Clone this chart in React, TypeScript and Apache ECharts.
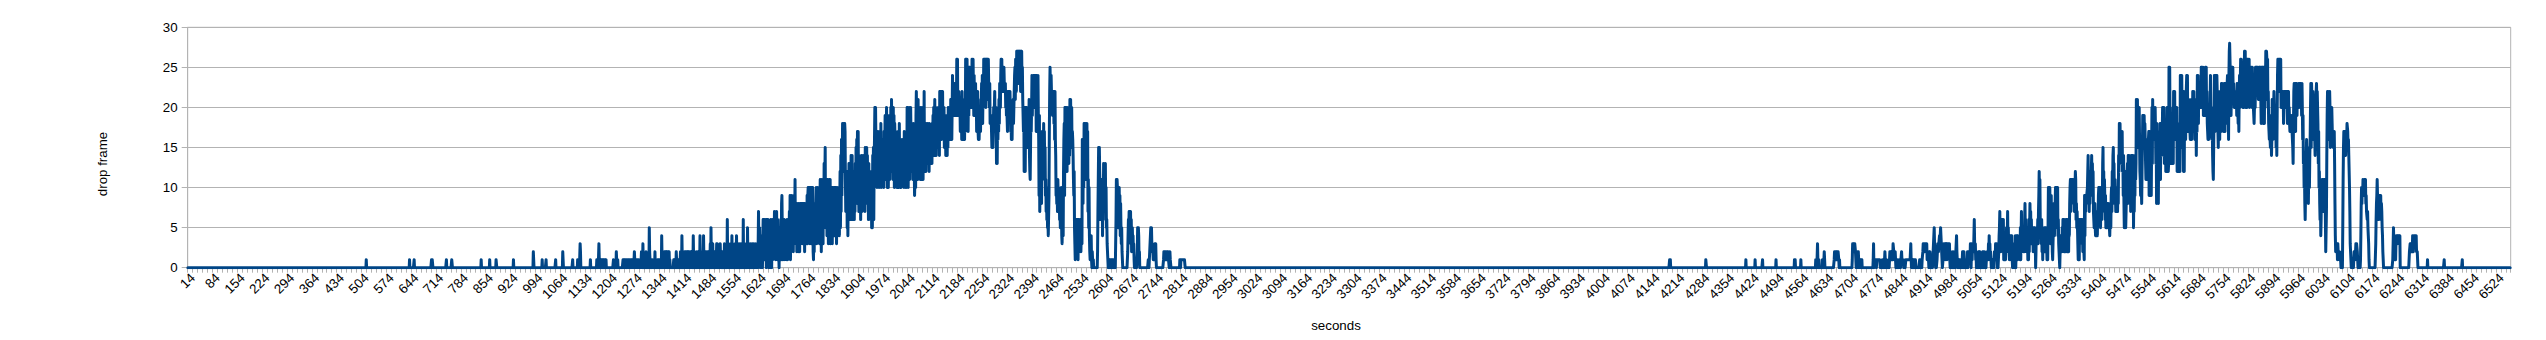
import React, { useEffect, useRef } from "react";
import * as echarts from "echarts";

// ---- Axis / category data ----
const SECOND_COUNT = 6550; // seconds 0 .. 6549 on the category axis
const LABEL_FIRST = 14;
const LABEL_STEP = 70;
const TICK_STEP = 14;
const Y_MIN = 0;
const Y_MAX = 30;
const Y_STEP = 5;
const X_TITLE = "seconds";
const Y_TITLE = "drop frame";

// ---- Series values (drop frames per second) ----
// isolated spikes: [second, value]
const leftSpikes: [number, number][] = [
  [503, 1], [625, 1], [638, 1], [687, 1], [688, 1], [689, 1], [690, 1], [729, 1], [744, 1], [745, 1],
  [827, 1], [851, 1], [869, 1], [870, 1], [918, 1], [974, 2], [975, 1], [999, 1], [1010, 1], [1037, 1],
  [1057, 2], [1058, 2], [1085, 1], [1099, 1], [1106, 3], [1107, 2], [1135, 1], [1153, 1], [1154, 1],
  [1156, 1], [1159, 3], [1160, 1], [1162, 1], [1163, 1], [1165, 1], [1167, 1], [1168, 1], [1170, 1],
  [1172, 1], [1174, 1], [1175, 1], [1177, 1], [1179, 1], [1200, 1], [1208, 2], [1209, 1], [1212, 1],
];
const rightSpikes: [number, number][] = [
  [4178, 1], [4179, 1], [4180, 1], [4280, 1], [4281, 1], [4393, 1], [4419, 1], [4440, 1], [4478, 1],
  [4530, 1], [4531, 1], [4532, 1], [4548, 1], [6315, 1], [6362, 1], [6413, 1],
];

// dense stretches: one character per second (base 36: 0-9, a=10 ... s=28), 10 seconds per block
const leftStart = 1225;
const leftBlocks: string[] = [
  "0011101111", "0110111101", "1110111011", "1101211101", "1110111101",
  "1101212031", "0110101201", "0101105210", "1010011010", "1020101100",
  "1011010101", "0410121012", "1202120210", "2120100000", "0000010101",
  "1021010101", "0101201041", "0120102121", "0212021201", "2102120120",
  "4101201010", "2101210204", "1020120104", "1021020120", "1202120130",
  "5102130201", "2010213031", "0201023120", "1021020130", "2010206130",
  "2102031204", "1302102031", "0240130201", "3020130312", "0602130210",
  "2305121301", "2031023013", "3102031203", "1203731520", "4130200616",
  "1615160626", "1630521306", "2036156247", "3616273162", "5204152618",
  "9516241635", "2514361526", "3729158396", "4827396b48", "3728462837",
  "2838584838", "4838285848", "3939a4a5a3", "a6a39a4a21", "5283848a39",
  "6a495a38b4", "a28b4a3b5d", "6bf5b8a4b7", "b3a6b4b39a", "5a3a5a49a4",
  "9a5a39a549", "a648c5e7g9", "diiciifihb", "7a8c5b4a6d", "8b6c9e6de7",
  "9c6a6b7d8f", "9g8h9ha7e8", "ab6d8e7c9e", "8e9c7f8dbf", "9e8c6d8b77",
  "a6c5b5e8f6", "dgkbkgcgaf", "bhcgahchci", "adcgbcfahc", "cjbidkkafb",
  "agcjbhckdl", "lcjbkcjaig", "bhcgaecahd", "aicgaeafbg", "cgbgahbfaf",
  "bdakckajdk", "bickgdidhb", "ficd9bhajm", "mcjbldhcjd", "bkdjbkcgbi",
  "dmcidgcieh", "fidegcidhd", "gehdifjekg", "ilefkeihgj", "fkgjemhmim",
  "gmimhjhkfi", "gjeigjeifk", "khjgkglgig", "kojmkljnjm", "jmkqlqjmkm",
  "mjkhlikgmh", "kgjgiglhqk", "qjqkmhnjpk", "pkolmkqlnq", "mjokmlnjmh",
  "kimhgjgijk", "hlknjoimkq", "qlqmqkqnqm", "qlqnmkniji", "jhfjhfhkik",
  "mijhkdhdjg", "jhlinmkoqn", "qmpnpmpnnm", "nkmjkkhmjm", "kmlmkhjgig",
  "kjlikmoplq", "qmrnrprnrq", "rprmrprnpl", "lhkcfkcjkj", "kfjhkjhlec",
  "bfkhkojmmo", "kolonlohoi", "lhojg9j7a8", "9b8ehbheic", "hcf9b7a685",
  "6449hmppko", "mlmjmkmimg", "mge9a8a7b9", "a7968575a4", "3694cgi9kf",
  "kgkhckghkd", "kelglhgkfh", "geb9c53146", "3626516264", "5362463gc8",
  "gaifibhigc", "ibh7b5a421", "3141021010", "0000000000", "27bf9fca6b",
  "6b8a4b6d7c", "8cd7a56321", "0010101101", "0101110100", "036b8ba957",
  "9a69485352", "1000000000", "0000024657", "6757362453", "4231000000",
  "0025354120", "0000000000", "0000000000", "0001101234", "5453232122",
  "1232310000", "0000000000", "0000001212", "1121211212", "1101211000",
  "0000000000", "0000000000", "0011011111", "1111111000",
];

const rightStart = 4585;
const rightBlocks: string[] = [
  "0000010000", "3100100000", "0000100012", "1000000000", "0000000000",
  "0000000122", "2212122122", "1010000000", "0000000000", "0000000000",
  "0000000013", "3323333210", "0012221001", "1101110000", "0000000000",
  "0000000000", "0000000130", "1111110111", "1111111000", "0001000000",
  "2100010000", "0001222122", "1213321212", "1011001000", "0111011211",
  "1110000001", "1111111111", "1113101101", "0101101100", "0000000011",
  "0101011233", "3323333231", "1111021210", "1100012345", "3210000123",
  "3233434543", "2100123333", "3132313323", "3231012100", "1021010201",
  "2342101001", "0100101012", "1202001101", "1012012122", "1320231323",
  "2463231201", "0101202120", "1001012120", "1210101121", "2132423121",
  "0100101012", "2132132010", "1245735246", "3563612123", "1235247352",
  "4143414241", "0121302040", "2434142323", "2151472535", "3252684632",
  "4251316258", "5736353525", "3525302535", "46379c8b64", "5362515232",
  "5253523141", "5a7a8a5359", "3621357846", "8a5a7a9a46", "3210242342",
  "5364625262", "3562462526", "48ab7b9bab", "9b8b7bacb6", "8575312416",
  "3565646525", "3219497989", "9ace9b7a8c", "9bcead9c76", "5685476454",
  "769a6a7a59", "76a8df9c7b", "9695858586", "867546859a", "7caefbd98b",
  "9779787a8e", "cihiehfhdh", "ce9e85a7c5", "79bcd8eaed", "b9d7ceae9e",
  "c5a7b9ebdl", "fhlgkfjkgc", "b99a8cfjgj", "hjgigdbgcf", "bdbgh9he9h",
  "b9fkdlgkhk", "kgkhdh8i9h", "a8gbgcibie", "ighkfkekdg", "egcgdgkcgc",
  "dpgphkhdgd", "hdgdmgkmgk", "ikgkcifcgf", "hfcofoiohk", "igcmclhlgl",
  "lolohkhlhi", "hgiglgkhmi", "kmhkgkilej", "hoioinlnkn", "mkpkpmkpjn",
  "mjmkpkpjmi", "hghgghiloi", "hkgiecbfjo", "ohokoiomlh", "fmilgmjmhn",
  "knjlihmnkh", "ninljnoiog", "orssomjnlp", "npmnmkmlkm", "kmjnmkilhm",
  "oknqmqlnok", "mlkormrkok", "lkqmqnoqko", "pmoppkpnmk", "jiimkpnpmp",
  "mpnlnpmpnp", "lipmpnpipn", "iplnrqrqlq", "kmihgjgfgj", "eglkglkmki",
  "kgkfiejoqq", "mqmqpmqkmm", "kmkmikmkmk", "mkmkmimkmi", "kihjhihjhh",
  "fdimnimnhn", "mnjmkmlnkm", "nlnkmjnkgj", "deac869beg", "bf9c8ceaeg",
  "knfnlmgmlh", "hjgeikmnjm", "kidhac8694", "6a8b9b7ab9", "9b6227ejmk",
  "mhjgmkfkhj", "kighfhghd8", "4223231322", "2121110000", "05bfhghfhe",
  "gfgiihfgee", "a732100000", "0012121232", "3321000000", "0148a8a9b9",
  "a9ba9b8977", "6754310000", "0000000000", "00003689bb", "7968989896",
  "8754210000", "0000000000", "0000000000", "0013534212", "1344434443",
  "4340000000", "0000000000", "0000000012", "2323323243", "2344344342",
  "2210000000",
];

function buildValues(): number[] {
  const v: number[] = new Array(SECOND_COUNT).fill(0);
  for (const [s, val] of [...leftSpikes, ...rightSpikes]) v[s] = val;
  const apply = (start: number, blocks: string[]) => {
    blocks.forEach((b, bi) => {
      for (let j = 0; j < 10; j++) {
        const ch = b.charAt(j);
        if (!ch) continue;
        const s = start + bi * 10 + j;
        if (s < SECOND_COUNT) v[s] = parseInt(ch, 36);
      }
    });
  };
  apply(leftStart, leftBlocks);
  apply(rightStart, rightBlocks);
  return v;
}

const categories: string[] = Array.from({ length: SECOND_COUNT }, (_, i) => String(i));

const FONT = "'Liberation Sans', Arial, sans-serif";
const GRID_COLOR = "#b3b3b3";
const LINE_COLOR = "#004586";

export default function App() {
  const ref = useRef<HTMLDivElement>(null);
  useEffect(() => {
    if (!ref.current) return;
    const chart = echarts.init(ref.current, null, { renderer: "svg" });
    const values = buildValues();
    chart.setOption({
      animation: false,
      backgroundColor: "#ffffff",
      textStyle: { fontFamily: FONT },
      grid: {
        left: 187.7,
        right: 35.3,
        top: 27.3,
        bottom: 72.3,
        show: true,
        borderColor: GRID_COLOR,
        borderWidth: 1,
        backgroundColor: "transparent",
      },
      xAxis: {
        type: "category",
        data: categories,
        boundaryGap: true,
        axisLine: { show: true, lineStyle: { color: GRID_COLOR, width: 1 } },
        axisTick: {
          show: true,
          interval: (i: number) => i % TICK_STEP === 0,
          length: 5,
          lineStyle: { color: GRID_COLOR, width: 1 },
        },
        axisLabel: {
          interval: (_i: number, val: string) =>
            Number(val) >= LABEL_FIRST && (Number(val) - LABEL_FIRST) % LABEL_STEP === 0,
          rotate: 45,
          margin: 8,
          fontSize: 13.33,
          color: "#000000",
          fontFamily: FONT,
        },
        splitLine: { show: false },
      },
      yAxis: {
        type: "value",
        min: Y_MIN,
        max: Y_MAX,
        interval: Y_STEP,
        axisLine: { show: true, lineStyle: { color: GRID_COLOR, width: 1 } },
        axisTick: { show: true, length: 6, lineStyle: { color: GRID_COLOR, width: 1 } },
        axisLabel: { margin: 10, fontSize: 13.33, color: "#000000", fontFamily: FONT },
        splitLine: { show: true, lineStyle: { color: GRID_COLOR, width: 1 } },
      },
      graphic: [
        {
          type: "text",
          x: 102,
          y: 164,
          rotation: Math.PI / 2,
          style: {
            text: Y_TITLE,
            fontSize: 13.33,
            fontFamily: FONT,
            fill: "#000000",
            textAlign: "center",
            textVerticalAlign: "middle",
          },
        },
        {
          type: "text",
          x: 1336,
          y: 325,
          style: {
            text: X_TITLE,
            fontSize: 13.33,
            fontFamily: FONT,
            fill: "#000000",
            textAlign: "center",
            textVerticalAlign: "middle",
          },
        },
      ],
      series: [
        {
          type: "line",
          data: values,
          symbol: "none",
          showSymbol: false,
          silent: true,
          lineStyle: { width: 3, color: LINE_COLOR, join: "round", cap: "round" },
          itemStyle: { color: LINE_COLOR },
        },
      ],
    });
    return () => chart.dispose();
  }, []);
  return (
    <div
      ref={ref}
      style={{ position: "fixed", left: 0, top: 0, width: 2546, height: 340, background: "#ffffff" }}
    />
  );
}
